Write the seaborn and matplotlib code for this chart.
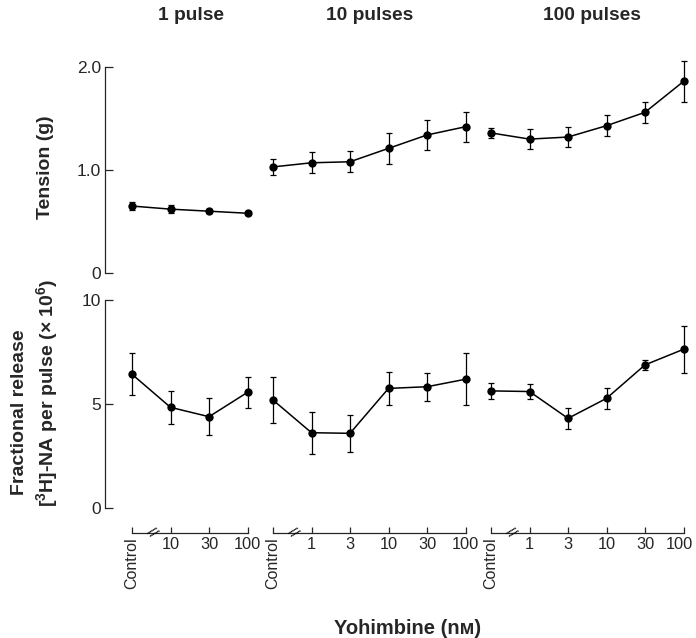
import numpy as np
import pandas as pd
import matplotlib
matplotlib.use('Agg')
import matplotlib.pyplot as plt
import matplotlib.transforms as mtransforms
import seaborn as sns

# ---------------- data ----------------
groups = ['1 pulse', '10 pulses', '100 pulses']
doses_1 = ['Control', '10', '30', '100']
doses_10 = ['Control', '1', '3', '10', '30', '100']
doses_100 = ['Control', '1', '3', '10', '30', '100']

tension_1 = [0.65, 0.62, 0.60, 0.58]
tension_1_err = [0.04, 0.04, 0.02, 0.02]
tension_10 = [1.03, 1.07, 1.08, 1.21, 1.34, 1.42]
tension_10_err = [0.08, 0.10, 0.10, 0.15, 0.15, 0.145]
tension_100 = [1.36, 1.30, 1.32, 1.43, 1.56, 1.86]
tension_100_err = [0.045, 0.10, 0.10, 0.10, 0.10, 0.195]

release_1 = [6.43, 4.84, 4.39, 5.56]
release_1_err = [1.0, 0.78, 0.88, 0.75]
release_10 = [5.19, 3.62, 3.59, 5.75, 5.83, 6.19]
release_10_err = [1.12, 1.0, 0.9, 0.8, 0.67, 1.26]
release_100 = [5.63, 5.60, 4.31, 5.27, 6.88, 7.63]
release_100_err = [0.38, 0.38, 0.5, 0.52, 0.24, 1.12]

doses = [doses_1, doses_10, doses_100]
tension = [tension_1, tension_10, tension_100]
tension_err = [tension_1_err, tension_10_err, tension_100_err]
release = [release_1, release_10, release_100]
release_err = [release_1_err, release_10_err, release_100_err]

# ---------------- style ----------------
sns.set_style('ticks')
plt.rcParams['font.family'] = ['Liberation Sans', 'DejaVu Sans']
plt.rcParams['mathtext.default'] = 'regular'
plt.rcParams['axes.linewidth'] = 0.9

W, H = 696, 638
fig = plt.figure(figsize=(W / 100, H / 100), dpi=100)

u = 38.5                      # px per category step
ctrl_px = [132, 273, 491]     # px of the Control position in each group
rows = [
    dict(y0=273, ppu=103.0, ylim=(0, 2.12), vals=tension, errs=tension_err,
         ticks=[0, 1.0, 2.0], labels=['0', '1.0', '2.0'], bounds=(0, 2.0)),
    dict(y0=508, ppu=20.8, ylim=(0, 10.2), vals=release, errs=release_err,
         ticks=[0, 5, 10], labels=['0', '5', '10'], bounds=(0, 10)),
]

for g in range(3):
    n = len(doses[g])
    x0 = ctrl_px[g]
    left_px = 105 if g == 0 else x0 - 0.34 * u
    right_px = min(x0 + (n - 1 + 0.34) * u, W)
    xlim = ((left_px - x0) / u, (right_px - x0) / u)
    for r, row in enumerate(rows):
        bottom_px = row['y0']
        top_px = bottom_px - row['ylim'][1] * row['ppu']
        ax = fig.add_axes([left_px / W, (H - bottom_px) / H,
                           (right_px - left_px) / W, (bottom_px - top_px) / H])
        ax.set_facecolor('none')
        df = pd.DataFrame({'pos': np.arange(n), 'val': row['vals'][g],
                           'err': row['errs'][g], 'dose': doses[g]})
        sns.lineplot(data=df, x='pos', y='val', ax=ax, color='black',
                     linewidth=1.1, marker='o', markersize=6,
                     markeredgewidth=0, errorbar=None, sort=False)
        ax.errorbar(df['pos'], df['val'], yerr=df['err'], fmt='none',
                    ecolor='black', elinewidth=0.9, capsize=2.0,
                    capthick=0.9, clip_on=False)
        ax.set_xlim(*xlim)
        ax.set_ylim(*row['ylim'])
        ax.set_xlabel('')
        ax.set_ylabel('')
        ax.spines['top'].set_visible(False)
        ax.spines['right'].set_visible(False)
        if g == 0:
            ax.spines['left'].set_bounds(*row['bounds'])
            ax.set_yticks(row['ticks'])
            ax.set_yticklabels(row['labels'])
            ax.tick_params(axis='y', direction='in', length=6, width=0.9,
                           pad=3, labelsize=12.5)
        else:
            ax.spines['left'].set_visible(False)
            ax.tick_params(axis='y', left=False, labelleft=False)
        if r == 0:
            ax.spines['bottom'].set_visible(False)
            ax.tick_params(axis='x', bottom=False, labelbottom=False)
        else:
            ax.spines['bottom'].set_position(('outward', 18))
            ax.spines['bottom'].set_bounds(0, n - 1)
            ax.set_xticks(np.arange(n))
            ax.set_xticklabels(doses[g])
            ax.tick_params(axis='x', direction='in', length=4.5, width=0.9,
                           pad=3, labelsize=11.8)
            labs = ax.get_xticklabels()
            lab0 = labs[0]
            lab0.set_rotation(90)
            lab0.set_fontsize(11.5)
            lab0.set_va('top')
            lab0.set_ha('center')
            if g == 2:
                last = labs[-1]
                last.set_transform(last.get_transform() +
                                   mtransforms.ScaledTranslation(
                                       -4 / 100, 0, fig.dpi_scale_trans))
            # axis break mark between Control and first dose
            trans = ax.get_xaxis_transform() + mtransforms.ScaledTranslation(
                0, -25 / 100, fig.dpi_scale_trans)
            ax.text(0.5, 0, '//', transform=trans, ha='center', va='center',
                    fontsize=10, rotation=-45, color='black')

# titles
title_px = [191, 370, 592]
for g in range(3):
    fig.text(title_px[g] / W, 1 - 16 / H, groups[g], ha='center', va='center',
             fontsize=13.8, fontweight='bold')

# axis labels
fig.text(45 / W, 1 - 167 / H, 'Tension (g)', rotation=90, ha='center',
         va='center', fontsize=14, fontweight='bold')
fig.text(20 / W, 1 - 412 / H, 'Fractional release', rotation=90, ha='center',
         va='center', fontsize=14, fontweight='bold')
fig.text(47 / W, 1 - 393 / H, '[$^{3}$H]-NA per pulse (× 10$^{6}$)',
         rotation=90, ha='center', va='center', fontsize=14,
         fontweight='bold')
fig.text(408 / W, 1 - 628 / H, 'Yohimbine (nᴍ)', ha='center', va='center',
         fontsize=14.5, fontweight='bold')

fig.savefig('out.png', dpi=100)
